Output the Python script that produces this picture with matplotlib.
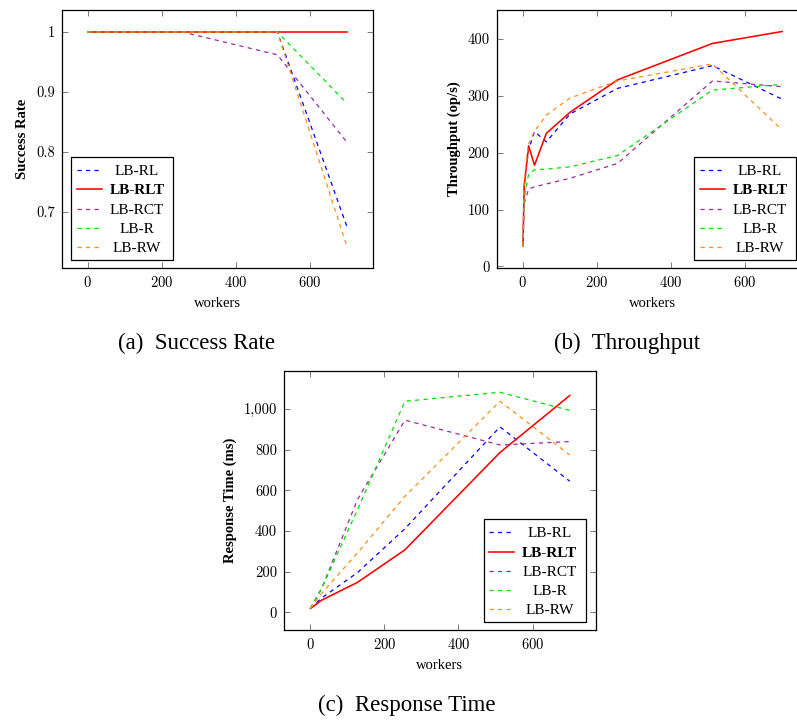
import matplotlib
matplotlib.use('Agg')
import matplotlib.pyplot as plt
from matplotlib.ticker import FuncFormatter
from matplotlib.offsetbox import DrawingArea, AnchoredOffsetbox
from matplotlib.lines import Line2D
from matplotlib.text import Text

plt.rcParams['font.family'] = ['Liberation Serif', 'DejaVu Serif']
plt.rcParams['axes.formatter.use_mathtext'] = True

names = ['LB-RL', 'LB-RLT', 'LB-RCT', 'LB-R', 'LB-RW']
colors = ['#0000ff', '#ff0000', '#9b2a9b', '#00e000', '#ff8c1a']

# success rate
workers_sr = [1, 256, 512, 700]
sr = [
    [1, 1, 1, 0.675],
    [1, 1, 1, 1],
    [1, 1, 0.962, 0.816],
    [1, 1, 1, 0.881],
    [1, 1, 1, 0.642],
]

# throughput (op/s)
workers_tp = [1, 4, 16, 32, 64, 128, 256, 512, 700]
tp = [
    [36, 140, 205, 237, 219, 268, 313, 353, 294],
    [36, 140, 212, 178, 234, 271, 328, 392, 413],
    [36, 110, 136, 140, 145, 155, 181, 326, 316],
    [36, 120, 162, 170, 171, 175, 195, 310, 320],
    [36, 150, 215, 238, 266, 296, 326, 356, 240],
]

# response time (ms)
workers_rt = [1, 32, 128, 256, 512, 700]
rt = [
    [20, 72, 196, 412, 912, 645],
    [20, 61, 148, 308, 786, 1066],
    [20, 120, 555, 945, 823, 840],
    [20, 120, 505, 1038, 1082, 993],
    [20, 95, 293, 571, 1038, 774],
]

W, H = 797, 720
fig = plt.figure(figsize=(W / 100, H / 100), dpi=100)


def style(i):
    if names[i] == 'LB-RLT':
        return dict(color=colors[i], lw=1.15, ls='-')
    return dict(color=colors[i], lw=0.9, ls=(0, (3.4, 3.4)))


def add_legend(ax, anchor, loc):
    bw, bh, row = 73.4, 74.4, 13.9
    da = DrawingArea(bw, bh, 0, 0)
    for i, name in enumerate(names):
        y = bh - 9.6 - i * row
        da.add_artist(Line2D([4.1, 22.1], [y, y], **style(i)))
        da.add_artist(Text(47.5, y, name, ha='center', va='center_baseline',
                           fontsize=11,
                           fontweight='bold' if name == 'LB-RLT' else 'normal'))
    box = AnchoredOffsetbox(loc=loc, child=da, pad=0, borderpad=0, frameon=True,
                            bbox_to_anchor=anchor, bbox_transform=ax.transAxes,
                            prop=dict(size=10))
    box.patch.set_linewidth(0.9)
    ax.add_artist(box)


def setup(ax, ylabel, ylim, yticks, fmt):
    ax.set_xlim(-70, 770)
    ax.set_ylim(*ylim)
    ax.set_xticks([0, 200, 400, 600])
    ax.set_yticks(yticks)
    ax.yaxis.set_major_formatter(FuncFormatter(fmt))
    ax.tick_params(direction='in', top=True, right=True, length=4.5, width=0.6,
                   color='#666666', labelsize=10.5, pad=5)
    for lab in ax.get_xticklabels() + ax.get_yticklabels():
        lab.set_fontfamily('cmr10')
    for s in ax.spines.values():
        s.set_linewidth(0.9)
    ax.set_xlabel('workers', fontsize=10.5, labelpad=5)
    ax.set_ylabel(ylabel, fontsize=10.5, fontweight='bold', labelpad=5)


def px_axes(left, top, right, bottom):
    return fig.add_axes([left / W, 1 - bottom / H, (right - left) / W, (bottom - top) / H])


# (a) success rate
ax1 = px_axes(61.7, 10, 373, 268)
for i in range(5):
    ax1.plot(workers_sr, sr[i], **style(i))
setup(ax1, 'Success Rate', (0.6067, 1.0367), [0.7, 0.8, 0.9, 1.0], lambda v, p: f'{v:g}')
add_legend(ax1, (0.030, 0.031), 'lower left')

# (b) throughput
ax2 = px_axes(496.7, 10, 808, 268)
for i in range(5):
    ax2.plot(workers_tp, tp[i], **style(i))
setup(ax2, 'Throughput (op/s)', (-2.8, 450.8), [0, 100, 200, 300, 400], lambda v, p: f'{int(v)}')
add_legend(ax2, (0.961, 0.031), 'lower right')

# (c) response time
ax3 = px_axes(284, 370.7, 595.7, 630)
for i in range(5):
    ax3.plot(workers_rt, rt[i], **style(i))
setup(ax3, 'Response Time (ms)', (-86, 1188), [0, 200, 400, 600, 800, 1000],
      lambda v, p: f'{int(v):,}')
add_legend(ax3, (0.968, 0.030), 'lower right')

fig.text(197 / W, 1 - 343 / H, '(a)  Success Rate', ha='center', va='center', fontsize=16.5)
fig.text(627 / W, 1 - 343 / H, '(b)  Throughput', ha='center', va='center', fontsize=16.5)
fig.text(407 / W, 1 - 705 / H, '(c)  Response Time', ha='center', va='center', fontsize=16.5)

fig.savefig('out.png', dpi=100)
